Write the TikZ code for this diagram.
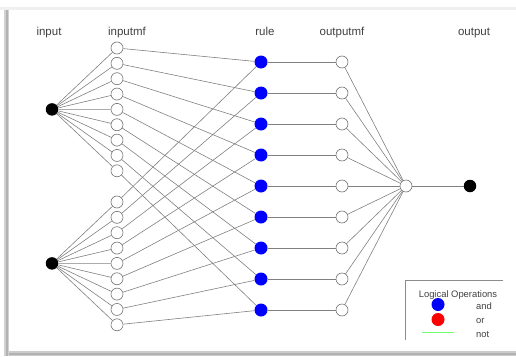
\documentclass[tikz,border=0pt]{standalone}
\usepackage{fontspec}
\setmainfont{Liberation Sans}
\usetikzlibrary{backgrounds}
\begin{document}
\begin{tikzpicture}[x=1pt,y=-1pt,
  link/.style={draw=black!50, line width=0.6pt},
  hollow/.style={circle, draw=black!55, fill=white, minimum size=12pt, inner sep=0pt, line width=0.6pt},
  solid/.style={circle, fill=black, minimum size=12.5pt, inner sep=0pt},
  andnode/.style={circle, fill=blue, minimum size=13pt, inner sep=0pt},
  ornode/.style={circle, fill=red, minimum size=13pt, inner sep=0pt},
  header/.style={font=\fontsize{11.5}{12}\selectfont, text=black!75, inner sep=0pt, anchor=base},
  legtext/.style={font=\fontsize{9.4}{10}\selectfont, text=black!75, inner sep=0pt, anchor=base west}]
\useasboundingbox (0,0) rectangle (516,356);

% column headers
\node[header] (hin)   at (49,35)  {input};
\node[header] (hinmf) at (127,35) {inputmf};
\node[header] (hrule) at (265,35) {rule};
\node[header] (houtmf) at (342,35) {outputmf};
\node[header] (hout)  at (474,35) {output};

% inputs
\node[solid] (inA) at (52,109.4) {};
\node[solid] (inB) at (52,263.4) {};

% input membership functions, rules and output membership functions
\foreach \i in {1,...,9} {
  \node[hollow] (mfA\i) at (117,{48+15.35*(\i-1)}) {};
  \node[hollow] (mfB\i) at (117,{202+15.35*(\i-1)}) {};
  \node[andnode] (r\i) at (261,{62+31*(\i-1)}) {};
  \node[hollow] (omf\i) at (342,{62+31*(\i-1)}) {};
}

% aggregation and output
\node[hollow] (agg) at (406,186) {};
\node[solid] (out) at (470,186) {};

\begin{pgfonlayer}{background}
% frame shading
\fill[black!6] (0,7) rectangle (516,10);
\fill[black!18] (4,10) rectangle (9,356);
\fill[black!30] (6,10) rectangle (8,356);
\fill[black!20] (9,351) rectangle (516,356);
\fill[black!30] (9,352.5) rectangle (516,354.5);
% connections
\foreach \i in {1,...,9} {
  \draw[link] (inA) -- (mfA\i);
  \draw[link] (inB) -- (mfB\i);
  \draw[link] (mfA\i) -- (r\i);
  \draw[link] (mfB\i) -- (r\i);
  \draw[link] (r\i) -- (omf\i);
  \draw[link] (omf\i) -- (agg);
}
\draw[link] (agg) -- (out);
\end{pgfonlayer}

% legend
\coordinate (lgTL) at (405,280);
\coordinate (lgTR) at (503,280);
\coordinate (lgBL) at (405,340);
\draw[black!45, line width=0.6pt] (lgBL) -- (lgTL) -- (lgTR);
\node[legtext, anchor=base] (lgtitle) at (458,297) {Logical Operations};
\node[andnode] (lgand) at (438,304.5) {};
\node[ornode] (lgor) at (438,319.5) {};
\coordinate (lgnotA) at (422,332);
\coordinate (lgnotB) at (454,332);
\draw[green!55!white, line width=1pt] (lgnotA) -- (lgnotB);
\node[legtext] (lgandt) at (476,309) {and};
\node[legtext] (lgort) at (476,323) {or};
\node[legtext] (lgnott) at (476,337) {not};
\end{tikzpicture}
\end{document}
